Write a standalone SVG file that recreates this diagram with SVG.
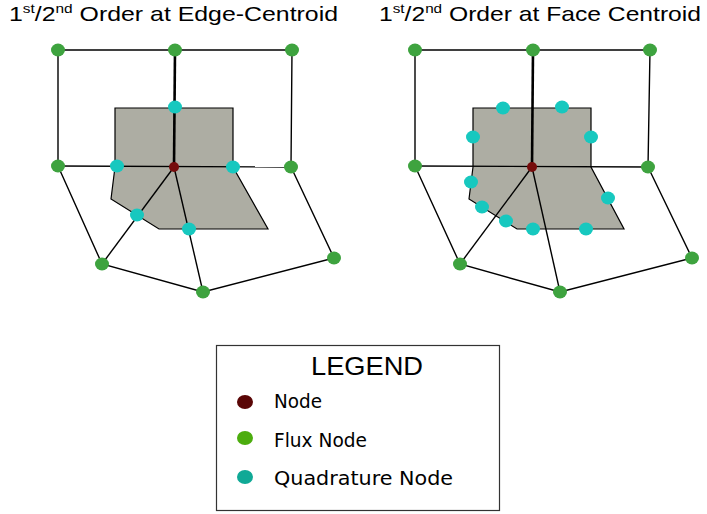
<svg xmlns="http://www.w3.org/2000/svg" width="707" height="514" viewBox="0 0 707 514">
<style>
.title{font-family:"Liberation Sans",Arial,sans-serif;font-size:21px;fill:#000}
.sup{font-size:13px}
.ln{stroke:#000;stroke-width:1.4;fill:none}
.thick{stroke:#000;stroke-width:2.6;fill:none}
.face{fill:#adada3;stroke:#000;stroke-width:1.2}
.flux{fill:#3ea33f}
.quad{fill:#17c8bf}
.node{fill:#760c0c}
.leg{font-family:"DejaVu Sans",Verdana,sans-serif;font-size:19px;fill:#000}
</style>
<rect width="707" height="514" fill="#fff"/>
<text class="title" x="9" y="21" textLength="329" lengthAdjust="spacingAndGlyphs">1<tspan class="sup" dy="-8">st</tspan><tspan dy="8">/2</tspan><tspan class="sup" dy="-8">nd</tspan><tspan dy="8"> Order at Edge-Centroid</tspan></text>
<text class="title" x="379" y="21" textLength="322" lengthAdjust="spacingAndGlyphs">1<tspan class="sup" dy="-8">st</tspan><tspan dy="8">/2</tspan><tspan class="sup" dy="-8">nd</tspan><tspan dy="8"> Order at Face Centroid</tspan></text>

<g id="face-left"><polygon class="face" points="115,108 233,108 233,167 268,229 159,229 111,199 115,167"/></g>
<g id="face-right"><polygon class="face" points="473,108 591,108 591,167 624,229 517,229 469,199 473,167"/></g>

<g id="connectors">
<polyline class="ln" points="58,166 58,50 292,50 291,167"/>
<line class="ln" x1="58" y1="166" x2="291" y2="167"/>
<polyline class="ln" points="58,166 102,264 203,292 334,258 291,167"/>
<line class="ln" x1="102" y1="264" x2="174" y2="167"/>
<line class="ln" x1="174" y1="167" x2="203" y2="292"/>
<line class="thick" x1="175" y1="50" x2="174" y2="167"/>

<polyline class="ln" points="415,166 415,50 650,50 648,167"/>
<line class="ln" x1="415" y1="166" x2="648" y2="167"/>
<polyline class="ln" points="415,166 460,264 560,292 692,258 648,167"/>
<line class="ln" x1="460" y1="264" x2="532" y2="167"/>
<line class="ln" x1="532" y1="167" x2="560" y2="292"/>
<line class="thick" x1="533" y1="50" x2="532" y2="167"/>
</g>

<g id="flux-left">
<ellipse class="flux" cx="58" cy="50" rx="7" ry="6.5"/>
<ellipse class="flux" cx="175" cy="50" rx="7" ry="6.5"/>
<ellipse class="flux" cx="292" cy="50" rx="7" ry="6.5"/>
<ellipse class="flux" cx="58" cy="166" rx="7" ry="6.5"/>
<ellipse class="flux" cx="291" cy="167" rx="7" ry="6.5"/>
<ellipse class="flux" cx="102" cy="264" rx="7" ry="6.5"/>
<ellipse class="flux" cx="203" cy="292" rx="7" ry="6.5"/>
<ellipse class="flux" cx="334" cy="258" rx="7" ry="6.5"/>
</g>
<g id="quad-left">
<ellipse class="quad" cx="175" cy="107" rx="7" ry="6.5"/>
<ellipse class="quad" cx="117" cy="166" rx="7" ry="6.5"/>
<ellipse class="quad" cx="233" cy="167" rx="7" ry="6.5"/>
<ellipse class="quad" cx="137" cy="215" rx="7" ry="6.5"/>
<ellipse class="quad" cx="189" cy="229" rx="7" ry="6.5"/>
</g>
<g id="node-left"><ellipse class="node" cx="174" cy="167" rx="5" ry="5"/></g>

<g id="flux-right">
<ellipse class="flux" cx="415" cy="50" rx="7" ry="6.5"/>
<ellipse class="flux" cx="533" cy="50" rx="7" ry="6.5"/>
<ellipse class="flux" cx="650" cy="50" rx="7" ry="6.5"/>
<ellipse class="flux" cx="415" cy="166" rx="7" ry="6.5"/>
<ellipse class="flux" cx="648" cy="167" rx="7" ry="6.5"/>
<ellipse class="flux" cx="460" cy="264" rx="7" ry="6.5"/>
<ellipse class="flux" cx="560" cy="292" rx="7" ry="6.5"/>
<ellipse class="flux" cx="692" cy="258" rx="7" ry="6.5"/>
</g>
<g id="quad-right">
<ellipse class="quad" cx="503" cy="108" rx="7" ry="6.5"/>
<ellipse class="quad" cx="562" cy="107" rx="7" ry="6.5"/>
<ellipse class="quad" cx="473" cy="137" rx="7" ry="6.5"/>
<ellipse class="quad" cx="591" cy="137" rx="7" ry="6.5"/>
<ellipse class="quad" cx="471" cy="182" rx="7" ry="6.5"/>
<ellipse class="quad" cx="608" cy="198" rx="7" ry="6.5"/>
<ellipse class="quad" cx="482" cy="207" rx="7" ry="6.5"/>
<ellipse class="quad" cx="506" cy="221" rx="7" ry="6.5"/>
<ellipse class="quad" cx="533" cy="229" rx="7" ry="6.5"/>
<ellipse class="quad" cx="586" cy="229" rx="7" ry="6.5"/>
</g>
<g id="node-right"><ellipse class="node" cx="532" cy="167" rx="5" ry="5"/></g>

<g id="legend">
<rect x="216.5" y="345.5" width="283" height="165" fill="#fff" stroke="#333" stroke-width="1.2"/>
<text x="367" y="375" text-anchor="middle" font-family="Liberation Sans,Arial,sans-serif" font-size="26" textLength="112" lengthAdjust="spacingAndGlyphs">LEGEND</text>
<ellipse cx="245" cy="402" rx="8" ry="7" fill="#5a0606"/>
<ellipse cx="245" cy="438" rx="8" ry="7" fill="#4cad0e"/>
<ellipse cx="245" cy="477" rx="8" ry="7" fill="#10a996"/>
<text class="leg" x="274" y="408" textLength="48" lengthAdjust="spacingAndGlyphs">Node</text>
<text class="leg" x="274" y="447" textLength="93" lengthAdjust="spacingAndGlyphs">Flux Node</text>
<text class="leg" x="274" y="485" textLength="179" lengthAdjust="spacingAndGlyphs">Quadrature Node</text>
</g>
</svg>
